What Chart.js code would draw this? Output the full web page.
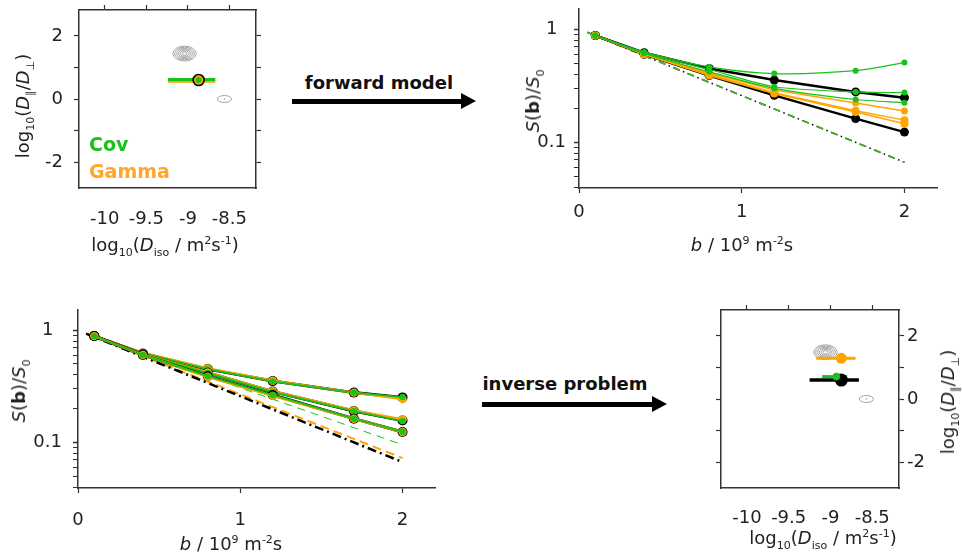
<!DOCTYPE html>
<html>
<head>
<meta charset="utf-8">
<script src="https://cdn.jsdelivr.net/npm/chart.js@4.4.1/dist/chart.umd.min.js"></script>
<style>
  body { margin: 0; background: #fff; }
  #fig { position: relative; width: 963px; height: 558px; overflow: hidden; font-family: "DejaVu Sans", sans-serif; color: #222; }
  #fig canvas { position: absolute; }
  .t { position: absolute; white-space: nowrap; font-size: 18px; line-height: 1; transform: translate(-50%, -50%); }
  .t.rot { transform: translate(-50%, -50%) rotate(-90deg); }
  .t sub, .t sup { font-size: 11px; line-height: 0; }
  .lg { position: absolute; font-weight: bold; font-size: 19px; line-height: 1; transform: translateY(-50%); }
  .arrowtxt { position: absolute; font-weight: bold; font-size: 18px; color: #111; white-space: nowrap; transform: translate(-50%, -50%); }
  .shaft { position: absolute; background: #000; height: 5px; }
  .head { position: absolute; width: 0; height: 0; border-left: 15px solid #000; border-top: 8.5px solid transparent; border-bottom: 8.5px solid transparent; }
</style>
</head>
<body>
<div id="fig">
  <canvas id="c1" width="300" height="260" style="left:0;top:0"></canvas>
  <canvas id="c2" width="443" height="260" style="left:520px;top:0"></canvas>
  <canvas id="c3" width="440" height="258" style="left:0;top:300px"></canvas>
  <canvas id="c4" width="263" height="268" style="left:700px;top:290px"></canvas>

  <div class="t" style="left:165px;top:245px">log<sub>10</sub>(<i>D</i><sub>iso</sub> / m<sup>2</sup>s<sup>-1</sup>)</div>
  <div class="t rot" style="left:23px;top:106px">log<sub>10</sub>(<i>D</i><sub>∥</sub>/<i>D</i><sub>⊥</sub>)</div>
  <div class="lg" style="left:89px;top:144px;color:#19c219">Cov</div>
  <div class="lg" style="left:89px;top:171px;color:#ffa62b">Gamma</div>

  <div class="t rot" style="left:533px;top:101px"><i>S</i>(<b>b</b>)/<i>S</i><sub>0</sub></div>
  <div class="t" style="left:742px;top:245px"><i>b</i> / 10<sup>9</sup> m<sup>-2</sup>s</div>

  <div class="t rot" style="left:19px;top:391px"><i>S</i>(<b>b</b>)/<i>S</i><sub>0</sub></div>
  <div class="t" style="left:231px;top:544px"><i>b</i> / 10<sup>9</sup> m<sup>-2</sup>s</div>

  <div class="t" style="left:823px;top:538px">log<sub>10</sub>(<i>D</i><sub>iso</sub> / m<sup>2</sup>s<sup>-1</sup>)</div>
  <div class="t rot" style="left:948px;top:402px">log<sub>10</sub>(<i>D</i><sub>∥</sub>/<i>D</i><sub>⊥</sub>)</div>

  <div class="arrowtxt" style="left:379px;top:82px">forward model</div>
  <div class="shaft" style="left:292px;top:98.5px;width:170px"></div>
  <div class="head" style="left:461px;top:92.5px"></div>

  <div class="arrowtxt" style="left:565px;top:383px">inverse problem</div>
  <div class="shaft" style="left:482px;top:401.5px;width:171px"></div>
  <div class="head" style="left:652px;top:395.5px"></div>
</div>

<script>
// ---- tick values / labels ----
const isoTicks = [-10, -9.5, -9, -8.5];
const isoTickLabels = ['-10', '-9.5', '-9', '-8.5'];
const aniTicks = [-2, -1, 0, 1, 2];
const aniTickLabels = ['-2', '', '0', '', '2'];
const bTicks = [0, 1, 2];
const bTickLabels = ['0', '1', '2'];
const sTicks = [0.04, 0.05, 0.06, 0.07, 0.08, 0.09, 0.1, 0.2, 0.3, 0.4, 0.5, 0.6, 0.7, 0.8, 0.9, 1];
const sTickLabels = ['', '', '', '', '', '', '0.1', '', '', '', '', '', '', '', '', '1'];

// ---- b-values (10^9 m^-2 s) ----
const bValues = [0.1, 0.4, 0.8, 1.2, 1.7, 2.0];

// ---- forward model signals ----
const fwdBlackA = [0.88, 0.62, 0.45, 0.355, 0.279, 0.248];
const fwdBlackB = [0.88, 0.60, 0.39, 0.26, 0.162, 0.123];
const fwdOrange1 = [0.88, 0.61, 0.41, 0.29, 0.223, 0.189];
const fwdOrange2 = [0.88, 0.60, 0.40, 0.275, 0.19, 0.157];
const fwdOrange3 = [0.88, 0.60, 0.39, 0.27, 0.185, 0.146];
const fwdGreen1 = [0.88, 0.63, 0.464, 0.405, 0.43, 0.507];
const fwdGreen2 = [0.88, 0.62, 0.44, 0.31, 0.279, 0.275];
const fwdGreen3 = [0.88, 0.61, 0.42, 0.30, 0.239, 0.224];
const refB = [0.05, 2.0];
const fwdRef = [0.94, 0.0665];

// ---- inverse problem signals ----
const invBlackA = [0.885, 0.62, 0.45, 0.352, 0.278, 0.252];
const invOrangeA = [0.885, 0.625, 0.455, 0.355, 0.278, 0.244];
const invGreenA = [0.885, 0.62, 0.45, 0.35, 0.278, 0.254];
const invBlackB = [0.885, 0.61, 0.418, 0.284, 0.191, 0.157];
const invOrangeB = [0.885, 0.61, 0.42, 0.286, 0.193, 0.16];
const invGreenB = [0.885, 0.61, 0.415, 0.282, 0.19, 0.155];
const invBlackC = [0.885, 0.60, 0.39, 0.265, 0.163, 0.124];
const invOrangeC = [0.885, 0.60, 0.385, 0.26, 0.163, 0.124];
const invGreenC = [0.885, 0.60, 0.39, 0.265, 0.163, 0.125];
const invRefBlack = [0.93, 0.067];
const invRefOrange = [0.93, 0.0727];
const invRefGreen = [0.93, 0.0955];

// ---- input distribution (top left) ----
const inputIso = -8.87, inputAni = 0.6;
const inputBarIso = [-9.24, -8.67];
const inputBarAniCov = 0.62, inputBarAniGamma = 0.56;

// ---- estimates (bottom right) ----
const truthIso = -8.87, truthAni = 0.6, truthIsoRange = [-9.25, -8.66];
const gammaIso = -8.87, gammaAni = 1.29, gammaIsoRange = [-9.17, -8.70];
const covIso = -8.93, covAni = 0.71, covIsoRange = [-9.10, -8.80];

// ---- contours: centres and ring half-widths in data units ----
const contourIso1 = [-9.04, -8.56], contourAni1 = [1.44, 0];
const contourIso4 = [-9.06, -8.57], contourAni4 = [1.48, 0];
const contourRx = [[0.14, 0.118, 0.096, 0.074, 0.052, 0.03], [0.085, 0.006]];
const contourRy = [[0.235, 0.198, 0.161, 0.124, 0.087, 0.05], [0.11, 0.01]];

const GREEN = '#19c219', ORANGE = '#ffa500', BLACK = '#000', AXIS = '#333';
const tickFont = { family: '"DejaVu Sans", sans-serif', size: 18 };

const pts = (xs, ys) => xs.map((x, i) => ({ x: x, y: ys[i] }));
const setTicks = vals => s => { s.ticks = vals.map(v => ({ value: v })); };
// fixed axis size, and no extra room reserved for overhanging labels
const fixW = w => s => { s.width = w; s.paddingTop = s.paddingBottom = s.paddingLeft = s.paddingRight = 0; };
const fixH = h => s => { s.height = h; s.paddingTop = s.paddingBottom = s.paddingLeft = s.paddingRight = 0; };

function line(xs, ys, color, lw, r, extra) {
  return Object.assign({
    data: pts(xs, ys), showLine: true, borderColor: color, backgroundColor: color,
    borderWidth: lw, pointRadius: r, pointBackgroundColor: color, pointBorderColor: color,
    pointBorderWidth: 0, tension: 0
  }, extra || {});
}
// first entry drawn at the bottom
function stack(list) {
  return list.map((d, i) => Object.assign(d, { order: list.length - i }));
}

function contourPlugin(isoArr, aniArr) {
  return {
    id: 'contours',
    beforeDatasetsDraw(chart) {
      const { ctx, scales: { x, y } } = chart;
      ctx.save();
      ctx.strokeStyle = '#999';
      ctx.lineWidth = 0.9;
      isoArr.forEach((cx, i) => {
        const cy = aniArr[i];
        const px = x.getPixelForValue(cx), py = y.getPixelForValue(cy);
        contourRx[i].forEach((r, k) => {
          const rx = Math.abs(x.getPixelForValue(cx + r) - px);
          const ry = Math.abs(y.getPixelForValue(cy + contourRy[i][k]) - py);
          ctx.beginPath();
          ctx.ellipse(px, py, rx, ry, 0, 0, Math.PI * 2);
          ctx.stroke();
        });
      });
      ctx.restore();
    }
  };
}

function boxScales(o) {
  const border = { color: AXIS, width: 1.5 };
  const noLabels = { display: false };
  return {
    x: {
      type: 'linear', position: 'bottom', min: -10.31, max: -8.18, bounds: 'data',
      afterBuildTicks: setTicks(isoTicks), afterFit: fixH(o.bottom),
      ticks: { font: tickFont, color: '#222', padding: o.xPad, maxRotation: 0, callback: (v, i) => isoTickLabels[i] },
      grid: { drawOnChartArea: false, drawTicks: false }, border: border
    },
    x2: {
      type: 'linear', position: 'top', min: -10.31, max: -8.18, bounds: 'data',
      afterBuildTicks: setTicks(isoTicks), afterFit: fixH(o.top),
      ticks: noLabels, grid: { drawOnChartArea: false, tickLength: 5, tickColor: AXIS, tickWidth: 1.2 }, border: border
    },
    y: {
      type: 'linear', position: o.labelSide, min: -2.82, max: 2.82, bounds: 'data',
      afterBuildTicks: setTicks(aniTicks), afterFit: fixW(o.labelW),
      ticks: { font: tickFont, color: '#222', padding: o.yPad, callback: (v, i) => aniTickLabels[i] },
      grid: { drawOnChartArea: false, tickLength: 5, tickColor: AXIS, tickWidth: 1.2 }, border: border
    },
    y2: {
      type: 'linear', position: o.labelSide === 'left' ? 'right' : 'left', min: -2.82, max: 2.82, bounds: 'data',
      afterBuildTicks: setTicks(aniTicks), afterFit: fixW(o.otherW),
      ticks: noLabels, grid: { drawOnChartArea: false, tickLength: 5, tickColor: AXIS, tickWidth: 1.2 }, border: border
    }
  };
}

function signalScales(o) {
  const border = { color: AXIS, width: 1.5 };
  return {
    x: {
      type: 'linear', position: 'bottom', min: 0, max: 2.2, bounds: 'data',
      afterBuildTicks: setTicks(bTicks), afterFit: fixH(o.bottom),
      ticks: { font: tickFont, color: '#222', padding: o.xPad, maxRotation: 0, callback: (v, i) => bTickLabels[i] },
      grid: { drawOnChartArea: false, tickLength: 5, tickColor: AXIS, tickWidth: 1.2 }, border: border
    },
    y: {
      type: 'logarithmic', position: 'left', min: 0.0394, max: 1.51, bounds: 'data',
      afterBuildTicks: setTicks(sTicks), afterFit: fixW(o.left),
      ticks: { font: tickFont, color: '#222', padding: o.yPad, crossAlign: 'center', autoSkip: false, callback: (v, i) => sTickLabels[i] },
      grid: {
        drawOnChartArea: false, tickLength: 5, tickColor: AXIS,
        tickWidth: c => (sTickLabels[c.index] ? 1.5 : 1)
      },
      border: border
    }
  };
}

const common = {
  responsive: false, animation: false, devicePixelRatio: 1, events: [],
  plugins: { legend: { display: false }, tooltip: { enabled: false } }
};

// ---- top left: input distribution ----
new Chart(document.getElementById('c1'), {
  type: 'scatter',
  data: {
    datasets: stack([
      line(inputBarIso, [inputBarAniGamma, inputBarAniGamma], ORANGE, 3, 0),
      line(inputBarIso, [inputBarAniCov, inputBarAniCov], GREEN, 3, 0),
      line([inputIso], [inputAni], ORANGE, 0, 5.5, { showLine: false, pointBorderColor: BLACK, pointBorderWidth: 1.6 }),
      line([inputIso], [inputAni], GREEN, 0, 3, { showLine: false })
    ])
  },
  options: Object.assign({}, common, {
    layout: { padding: 0 },
    scales: boxScales({ bottom: 72, top: 10, labelSide: 'left', labelW: 79, otherW: 44, xPad: 21, yPad: 11 })
  }),
  plugins: [contourPlugin(contourIso1, contourAni1)]
});

// ---- top right: forward model ----
new Chart(document.getElementById('c2'), {
  type: 'scatter',
  data: {
    datasets: stack([
      line(refB, fwdRef, BLACK, 1.5, 0, { borderDash: [7, 3.5, 1.5, 3.5] }),
      line(refB, fwdRef, '#4db52a', 1.6, 0, { borderDash: [7, 8.5] }),
      line(bValues, fwdBlackA, BLACK, 2.5, 4.5),
      line(bValues, fwdBlackB, BLACK, 2.5, 4.5),
      line(bValues, fwdOrange1, ORANGE, 1.5, 3.5),
      line(bValues, fwdOrange2, ORANGE, 1.5, 4),
      line(bValues, fwdOrange3, ORANGE, 1.5, 4),
      line(bValues, fwdGreen1, GREEN, 1.2, 3, { tension: 0.35 }),
      line(bValues, fwdGreen2, GREEN, 1.2, 3, { tension: 0.25 }),
      line(bValues, fwdGreen3, GREEN, 1.2, 3, { tension: 0.25 })
    ])
  },
  options: Object.assign({}, common, {
    layout: { padding: { top: 9, right: 26, left: 0, bottom: 0 } },
    scales: signalScales({ bottom: 72, left: 59, xPad: 9, yPad: 8 })
  })
});

// ---- bottom left: fitted signals ----
new Chart(document.getElementById('c3'), {
  type: 'scatter',
  data: {
    datasets: stack([
      line(refB, invRefGreen, GREEN, 1, 0, { borderDash: [8, 6] }),
      line(refB, invRefOrange, ORANGE, 2, 0, { borderDash: [9, 5] }),
      line(refB, invRefBlack, BLACK, 2.5, 0, { borderDash: [9, 4, 2, 4] }),
      line(bValues, invBlackA, BLACK, 3, 5),
      line(bValues, invOrangeA, ORANGE, 2.5, 4.2),
      line(bValues, invGreenA, GREEN, 1.8, 3.2),
      line(bValues, invBlackB, BLACK, 3, 5),
      line(bValues, invOrangeB, ORANGE, 2.5, 4.2),
      line(bValues, invGreenB, GREEN, 1.8, 3.2),
      line(bValues, invBlackC, BLACK, 3, 5),
      line(bValues, invOrangeC, ORANGE, 2.5, 4.2),
      line(bValues, invGreenC, GREEN, 1.8, 3.2)
    ])
  },
  options: Object.assign({}, common, {
    layout: { padding: { top: 10, right: 5, left: 0, bottom: 0 } },
    scales: signalScales({ bottom: 70, left: 78, xPad: 17, yPad: 11 })
  })
});

// ---- bottom right: estimated distribution ----
new Chart(document.getElementById('c4'), {
  type: 'scatter',
  data: {
    datasets: stack([
      line(truthIsoRange, [truthAni, truthAni], BLACK, 3.5, 0),
      line(gammaIsoRange, [gammaAni, gammaAni], ORANGE, 3, 0),
      line(covIsoRange, [covAni, covAni], GREEN, 3, 0),
      line([truthIso], [truthAni], BLACK, 0, 6.5, { showLine: false }),
      line([gammaIso], [gammaAni], ORANGE, 0, 5.5, { showLine: false }),
      line([covIso], [covAni], GREEN, 0, 3.8, { showLine: false })
    ])
  },
  options: Object.assign({}, common, {
    layout: { padding: 0 },
    scales: boxScales({ bottom: 70, top: 20, labelSide: 'right', labelW: 64, otherW: 21, xPad: 20, yPad: 3 })
  }),
  plugins: [contourPlugin(contourIso4, contourAni4)]
});
</script>
</body>
</html>
